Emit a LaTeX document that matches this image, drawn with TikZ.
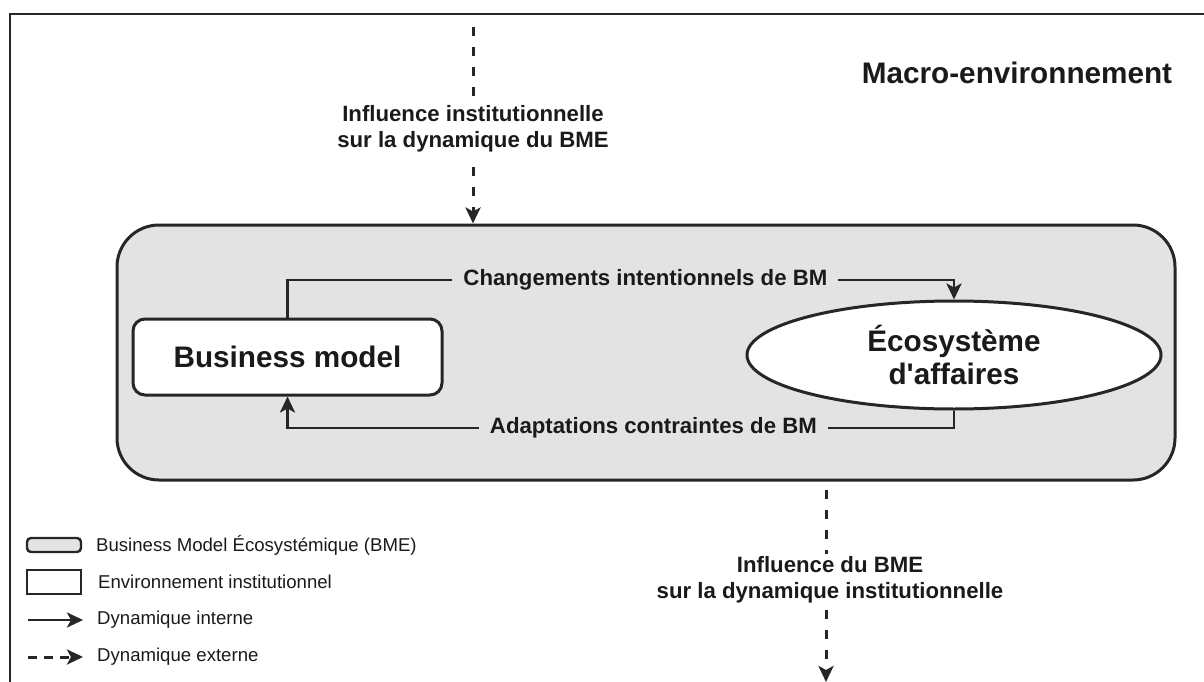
\documentclass[tikz,border=0pt]{standalone}
\usepackage{fontspec}
\setmainfont{Liberation Sans}
\usetikzlibrary{arrows.meta,shapes.geometric}
\definecolor{bmegray}{HTML}{E3E3E3}
\definecolor{ink}{HTML}{262626}
\definecolor{txt}{HTML}{1A1A1A}
\begin{document}
\begin{tikzpicture}[x=1pt,y=-1pt,
  line/.style={draw=ink,line width=2.8pt},
  tip/.style={-{Stealth[length=16pt,width=15pt,inset=4pt]}},
  solidarrow/.style={line,tip},
  dasharrow/.style={line,tip,line width=3pt,dash pattern=on 9pt off 11pt},
  bigtxt/.style={font=\fontsize{29.7}{33}\selectfont\bfseries,text=txt},
  lab/.style={font=\fontsize{22.2}{26}\selectfont\bfseries,text=txt,align=center},
  legtxt/.style={font=\fontsize{18.6}{22}\selectfont,text=txt,anchor=west,inner sep=0pt},
]
\useasboundingbox (0,0) rectangle (1204,682);
% outer frame
\draw[draw=ink,line width=2.8pt] (10,682) -- (10,14) -- (1204,14);

\node[bigtxt] (macro) at (1017,73) {Macro-environnement};

% BME
\node[draw=ink,line width=3pt,fill=bmegray,rounded corners=42pt,
      minimum width=1058pt,minimum height=255pt] (bme) at (646,352.5) {};

\node[draw=ink,line width=3pt,fill=white,rounded corners=12pt,
      minimum width=309pt,minimum height=76pt,bigtxt] (bm) at (287.5,357) {Business model};

\node[draw=ink,line width=3pt,fill=white,ellipse,inner sep=0pt,
      minimum width=414pt,minimum height=108pt,bigtxt,align=center] (eco) at (954,355)
      {Écosystème\\d\textquotesingle affaires};

\coordinate (c1) at (287.5,280);
\coordinate (c2) at (954,428);

\draw[solidarrow] (bm.north) -- (c1)
   -- node[lab,fill=bmegray,inner xsep=11pt,inner ysep=2pt,pos=0.537] (l1) {Changements intentionnels de BM}
   (c1 -| eco.north) -- (eco.north);

\draw[solidarrow] (eco.south) -- (c2)
   -- node[lab,fill=bmegray,inner xsep=11pt,inner ysep=2pt,pos=0.451] (l2) {Adaptations contraintes de BM}
   (c2 -| bm.south) -- (bm.south);

% external dynamics
\coordinate (t0) at (473,27);
\draw[dasharrow] (t0) -- node[lab,fill=white,inner sep=3pt,pos=0.52] (l3)
   {Influence institutionnelle\\sur la dynamique du BME} (t0 |- bme.north);

\coordinate (b0) at (826,490);
\coordinate (b1) at (826,682);
\draw[dasharrow] (b0) -- node[lab,fill=white,inner sep=3pt,pos=0.47,xshift=4pt] (l4)
   {Influence du BME\\sur la dynamique institutionnelle} (b1);

% legend
\node[draw=ink,line width=2.4pt,fill=bmegray,rounded corners=4pt,
      minimum width=54pt,minimum height=14pt,inner sep=0pt] (k1) at (54,545) {};
\node[draw=ink,line width=2.4pt,fill=white,
      minimum width=54pt,minimum height=24pt,inner sep=0pt] (k2) at (54,582) {};
\coordinate (k3a) at (28,620); \coordinate (k3b) at (83,620);
\draw[solidarrow] (k3a) -- (k3b);
\coordinate (k4a) at (28,657); \coordinate (k4b) at (83,657);
\draw[dasharrow,dash pattern=on 9pt off 7pt] (k4a) -- (k4b);

\node[legtxt] (t1) at (96,545) {Business Model Écosystémique (BME)};
\node[legtxt] (t2) at (98,582) {Environnement institutionnel};
\node[legtxt] (t3) at (97,620) {Dynamique interne};
\node[legtxt] (t4) at (97,657) {Dynamique externe};
\end{tikzpicture}
\end{document}
